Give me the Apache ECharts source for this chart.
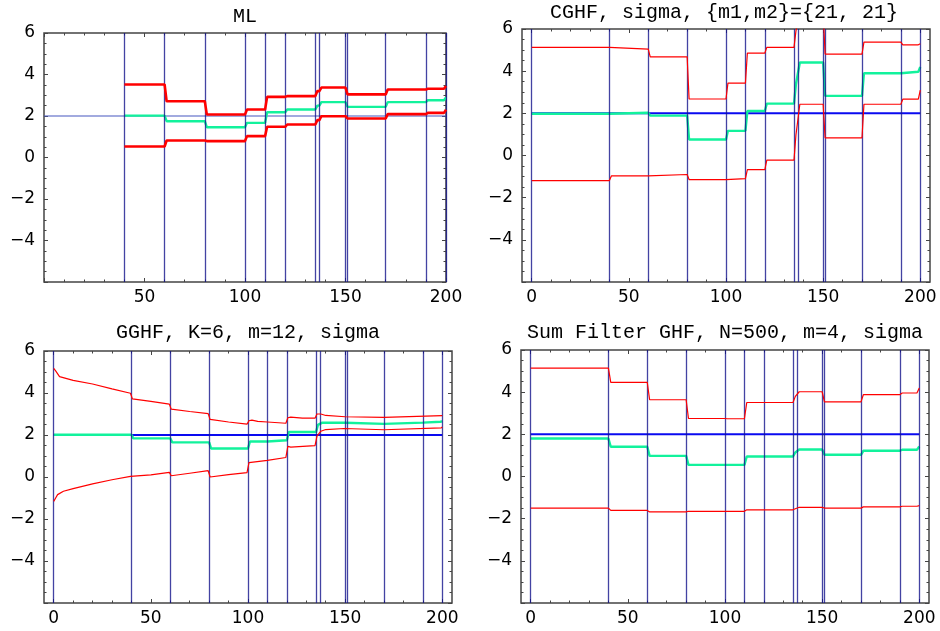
<!DOCTYPE html>
<html>
<head>
<meta charset="utf-8">
<script src="https://cdn.jsdelivr.net/npm/echarts@6/dist/echarts.min.js"></script>
<style>html,body{margin:0;padding:0;background:#fff}#c{width:940px;height:631px}</style>
</head>
<body>
<div id="c"></div>
<script>
// ---- data ----
const titles = ['ML', 'CGHF, sigma, {m1,m2}={21, 21}', 'GGHF, K=6, m=12, sigma', 'Sum Filter GHF, N=500, m=4, sigma'];
const segBreaks = [0, 40, 60, 80, 100, 110, 120, 135, 137, 150, 170, 190, 200];
const changePoints = [0, 40, 60, 80, 100, 110, 120, 135, 137, 150, 151, 170, 190, 200];
const xTickLabels = [0, 50, 100, 150, 200];
const yTickLabels = [-4, -2, 0, 2, 4, 6];
const trueValue = 2;

// ML
const mlUpper = [null, 3.52, 2.71, 2.07, 2.31, 2.92, 2.96, 3.2, 3.37, 3.04, 3.28, 3.31];
const mlUpperEnd = 3.45;
const mlMid = [null, 2.02, 1.75, 1.46, 1.67, 2.18, 2.31, 2.5, 2.67, 2.44, 2.67, 2.76];
const mlMidEnd = 2.9;
const mlLower = [null, 0.53, 0.82, 0.79, 1.03, 1.48, 1.59, 1.8, 1.99, 1.88, 2.09, 2.15];
const mlLowerEnd = 2.3;

// CGHF
const cgUpper = [5.13, 5.05, 4.68, 2.68, 3.43, 4.86, 5.13, 5.9, 6.8, 4.81, 5.38, 5.25];
const cgUpperEnd = 5.3;
const cgMid = [1.98, 2.03, 1.89, 0.76, 1.17, 2.11, 2.46, 3.38, 4.41, 2.83, 3.90, 3.97];
const cgMidEnd = 4.2;
const cgLower = [-1.19, -0.97, -0.90, -1.14, -1.10, -0.67, -0.22, 0.97, 2.43, 0.84, 2.43, 2.67];
const cgLowerEnd = 3.1;

// GGHF (sampled curves)
const ggUpperX = [0, 1, 3, 10, 20, 30, 39.5, 40.5, 50, 59.5, 60.5, 70, 79.5, 80.5, 90, 99.5, 100.5, 102, 105, 110, 119.5, 120.5, 122, 128, 134.5, 135.5, 136.5, 137.5, 140, 150, 151, 170, 170.5, 200];
const ggUpperY = [5.17, 5.05, 4.78, 4.6, 4.43, 4.2, 3.99, 3.72, 3.6, 3.47, 3.23, 3.12, 3.02, 2.74, 2.62, 2.52, 2.68, 2.71, 2.65, 2.62, 2.56, 2.82, 2.85, 2.8, 2.8, 3.0, 3.05, 3.0, 2.93, 2.87, 2.84, 2.84, 2.88, 2.92];
const ggLowerX = [0, 1, 2, 5, 10, 20, 30, 39.5, 40.5, 50, 59.5, 60.5, 70, 79.5, 80.5, 90, 99.5, 100.5, 110, 111, 119.5, 120.5, 122, 134.5, 135.5, 136.5, 137.5, 140, 149.5, 150.5, 170, 170.5, 199.5, 200];
const ggLowerY = [-1.16, -1.0, -0.84, -0.68, -0.55, -0.33, -0.13, 0.03, -0.05, 0.1, 0.22, 0.06, 0.18, 0.3, 0.0, 0.11, 0.21, 0.68, 0.79, 0.85, 0.93, 1.46, 1.42, 1.49, 1.95, 2.0, 2.18, 2.26, 2.31, 2.25, 2.25, 2.32, 2.34, 2.38];
const ggMid = [2.01, 1.84, 1.65, 1.36, 1.69, 1.75, 2.14, 2.48, 2.58, 2.53, 2.59, 2.63];
const ggMidEnd = 2.65;

// Sum filter
const sfUpper = [5.14, 4.46, 3.64, 2.75, 2.74, 3.51, 3.51, 3.80, 4.02, 3.54, 3.88, 3.96];
const sfUpperEnd = 4.2;
const sfMid = [1.80, 1.41, 0.98, 0.55, 0.55, 0.95, 0.95, 1.14, 1.28, 1.03, 1.22, 1.27];
const sfMidEnd = 1.42;
const sfLower = [-1.50, -1.61, -1.68, -1.65, -1.65, -1.58, -1.58, -1.53, -1.46, -1.50, -1.44, -1.41];
const sfLowerEnd = -1.38;

// ---- builders ----
function stepLine(vals, endVal, ramp) {
  const pts = [];
  const n = vals.length;
  for (let i = 0; i < n; i++) {
    if (vals[i] == null) continue;
    const a = segBreaks[i], b = segBreaks[i + 1];
    const start = (i === 0 || vals[i - 1] == null) ? a : a + ramp;
    pts.push([start, vals[i]]);
    pts.push([i === n - 1 ? b - ramp : b, vals[i]]);
  }
  pts.push([segBreaks[n], endVal]);
  return pts;
}
function zipXY(xs, ys) { return xs.map((x, i) => [x, ys[i]]); }
function range(a, b, s) { const r = []; for (let v = a; v <= b + 1e-9; v += s) r.push(+v.toFixed(4)); return r; }

const grids = [
  {left: 44, top: 33, width: 402, height: 249, xmin: 0, xmax: 200},
  {left: 522, top: 29, width: 408, height: 253, xmin: -5, xmax: 205},
  {left: 44, top: 351, width: 408, height: 252, xmin: -5, xmax: 205},
  {left: 521, top: 350, width: 408, height: 253, xmin: -5, xmax: 205}
];

const fmt = v => (v < 0 ? '\u2212' + Math.abs(v) : String(v));
const labelFont = {fontFamily: 'DejaVu Sans', fontSize: 17, color: '#000'};

const xAxes = [], yAxes = [], series = [];
grids.forEach((g, gi) => {
  const xLabels = gi === 0 ? xTickLabels.slice(1) : xTickLabels;
  const xMajor = range(0, 200, 50), xMinor = range(0, 200, 10);
  const yMajor = range(-6, 6, 2), yMinor = range(-6, 6, 0.5);
  const tickCol = '#444';
  const mk = (pos, kind, isX) => {
    const ax = {
      type: 'value', gridIndex: gi, position: pos,
      min: isX ? g.xmin : -6, max: isX ? g.xmax : 6,
      axisLine: {show: false, onZero: false}, splitLine: {show: false},
      axisTick: {show: true, inside: true, length: kind === 'major' ? 4 : 2.5,
        lineStyle: {color: tickCol, width: 1},
        customValues: isX ? (kind === 'major' ? xMajor : xMinor) : (kind === 'major' ? yMajor : yMinor)},
      axisLabel: {show: false}
    };
    if (kind === 'major' && (pos === 'bottom' || pos === 'left')) {
      ax.axisLabel = Object.assign({show: true, margin: isX ? 7 : 9, formatter: fmt,
        customValues: isX ? xLabels : yTickLabels}, labelFont);
    }
    return ax;
  };
  xAxes.push(mk('bottom', 'major', true), mk('bottom', 'minor', true), mk('top', 'major', true), mk('top', 'minor', true));
  yAxes.push(mk('left', 'major', false), mk('left', 'minor', false), mk('right', 'major', false), mk('right', 'minor', false));
});

const red = '#ff0000', green = '#12f29c';
const vertColor = 'rgba(20,20,140,0.8)';
const panelData = [
  {upper: stepLine(mlUpper, mlUpperEnd, 1), mid: stepLine(mlMid, mlMidEnd, 1), lower: stepLine(mlLower, mlLowerEnd, 1), rw: 2.6, verts: changePoints.slice(1), blue: '#4656c0', bw: 1.2},
  {upper: stepLine(cgUpper, cgUpperEnd, 1), mid: stepLine(cgMid, cgMidEnd, 1), lower: stepLine(cgLower, cgLowerEnd, 1), rw: 1.2, verts: changePoints, blue: '#0a0af0', bw: 2},
  {upper: zipXY(ggUpperX, ggUpperY), mid: stepLine(ggMid, ggMidEnd, 1), lower: zipXY(ggLowerX, ggLowerY), rw: 1.2, verts: changePoints, blue: '#0a0af0', bw: 2},
  {upper: stepLine(sfUpper, sfUpperEnd, 1.2), mid: stepLine(sfMid, sfMidEnd, 1.2), lower: stepLine(sfLower, sfLowerEnd, 1.2), rw: 1.2, verts: changePoints, blue: '#0a0af0', bw: 2}
];

panelData.forEach((p, gi) => {
  const xi = gi * 4, yi = gi * 4;
  const base = {type: 'line', xAxisIndex: xi, yAxisIndex: yi, showSymbol: false, symbol: 'none', animation: false, silent: true, clip: true};
  series.push(Object.assign({}, base, {
    data: [[0, trueValue], [200, trueValue]], z: 3,
    lineStyle: {color: p.blue, width: p.bw},
    markLine: {silent: true, symbol: ['none', 'none'], label: {show: false}, animation: false,
      lineStyle: {color: vertColor, width: 1.3, type: 'solid'},
      data: p.verts.map(v => ({xAxis: v}))}
  }));
  series.push(Object.assign({}, base, {data: p.mid, z: 4, lineStyle: {color: green, width: 2.4}}));
  series.push(Object.assign({}, base, {data: p.upper, z: 5, lineStyle: {color: red, width: p.rw}}));
  series.push(Object.assign({}, base, {data: p.lower, z: 5, lineStyle: {color: red, width: p.rw}}));
});

const titlePos = [[245, 17], [724, 13], [248, 333], [725, 333]];
const graphics = titles.map((t, i) => ({
  type: 'text', x: titlePos[i][0], y: titlePos[i][1], silent: true,
  style: {text: t, fontFamily: 'Liberation Mono', fontSize: 20, fill: '#000', textAlign: 'center', textVerticalAlign: 'middle'}
}));

const chart = echarts.init(document.getElementById('c'), null, {renderer: 'canvas'});
chart.setOption({
  backgroundColor: '#fff',
  animation: false,
  grid: grids.map(g => ({left: g.left, top: g.top, width: g.width, height: g.height, show: true, borderColor: '#444', borderWidth: 1.5, backgroundColor: 'transparent'})),
  xAxis: xAxes,
  yAxis: yAxes,
  series: series,
  graphic: graphics
});
</script>
</body>
</html>
